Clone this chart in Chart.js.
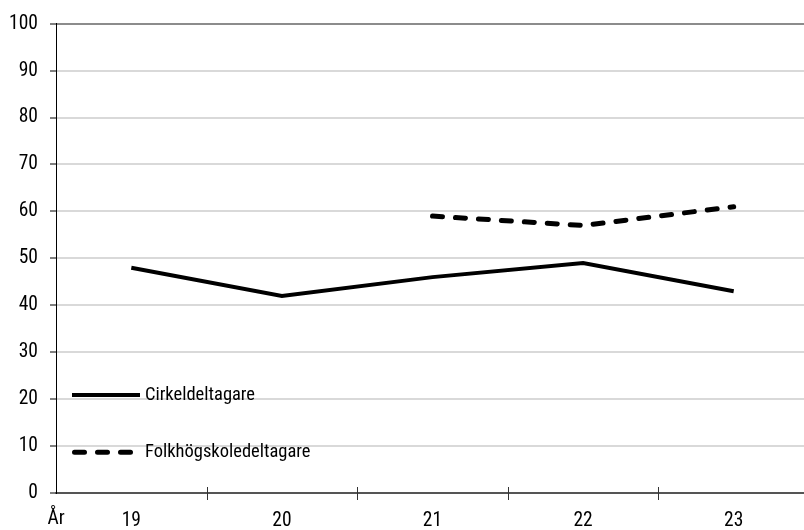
<!DOCTYPE html>
<html>
<head>
<meta charset="utf-8">
<script src="https://cdn.jsdelivr.net/npm/chart.js@4/dist/chart.umd.min.js"></script>
<style>
html, body { margin: 0; padding: 0; overflow: hidden; background: #fff; }
#wrap { position: relative; width: 810px; height: 530px; }
</style>
</head>
<body>
<div id="wrap"><canvas id="c"></canvas></div>
<script>
const categories = ['19', '20', '21', '22', '23'];
const cirkeldeltagare = [48, 42, 46, 49, 43];
const folkhogskoledeltagare = [null, null, 59, 57, 61];
const seriesNames = ['Cirkeldeltagare', 'Folkhögskoledeltagare'];
const axisLabelX = 'År';
const yTicks = [0, 10, 20, 30, 40, 50, 60, 70, 80, 90, 100];

const FONT = '"Roboto Condensed", "DejaVu Sans Condensed", sans-serif';
const FONT_SIZE = 19.5;
const LEGEND_FONT_SIZE = 18.5;

const overlay = {
  id: 'overlay',
  afterDraw(chart) {
    const ctx = chart.ctx;
    const x = chart.scales.x, y = chart.scales.y;
    const area = chart.chartArea;
    ctx.save();
    ctx.strokeStyle = '#333';
    ctx.lineWidth = 1;
    for (let i = 1; i < categories.length; i++) {
      const px = Math.round((x.getPixelForValue(i - 1) + x.getPixelForValue(i)) / 2) + 0.5;
      ctx.beginPath();
      ctx.moveTo(px, area.bottom - 6);
      ctx.lineTo(px, area.bottom + 7);
      ctx.stroke();
    }
    ctx.fillStyle = '#000';
    ctx.font = FONT_SIZE + 'px ' + FONT;
    ctx.textAlign = 'center';
    ctx.textBaseline = 'middle';
    ctx.fillText(axisLabelX, area.left, 519);
    const ds = chart.data.datasets;
    const rows = [y.getPixelForValue(20.9), y.getPixelForValue(8.7)];
    ctx.font = LEGEND_FONT_SIZE + 'px ' + FONT;
    ds.forEach((d, i) => {
      const ly = rows[i];
      ctx.strokeStyle = d.borderColor;
      ctx.lineWidth = d.borderWidth;
      ctx.setLineDash(d.borderDash || []);
      ctx.lineCap = d.borderCapStyle || 'butt';
      ctx.beginPath();
      if (i === 0) { ctx.moveTo(72, ly); ctx.lineTo(140, ly); }
      else { ctx.moveTo(74.5, ly); ctx.lineTo(130.5, ly); }
      ctx.stroke();
      ctx.setLineDash([]);
      ctx.fillStyle = '#000';
      ctx.textAlign = 'left';
      ctx.textBaseline = 'middle';
      ctx.fillText(d.label, 145, ly);
    });
    ctx.restore();
  }
};

new Chart(document.getElementById('c'), {
  type: 'line',
  data: {
    labels: categories,
    datasets: [
      {
        label: seriesNames[0],
        data: cirkeldeltagare,
        borderColor: '#000',
        borderWidth: 4,
        pointRadius: 0,
        tension: 0,
        fill: false
      },
      {
        label: seriesNames[1],
        data: folkhogskoledeltagare,
        borderColor: '#000',
        borderWidth: 5,
        borderDash: [10, 13],
        borderCapStyle: 'round',
        pointRadius: 0,
        tension: 0,
        fill: false
      }
    ]
  },
  options: {
    responsive: true,
    maintainAspectRatio: false,
    animation: false,
    layout: { padding: { top: 23, right: 1, left: 0, bottom: 0 } },
    plugins: { legend: { display: false }, tooltip: { enabled: false } },
    scales: {
      x: {
        offset: true,
        grid: { display: false, drawTicks: false, offset: true },
        border: { display: true, color: '#555', width: 2 },
        ticks: {
          color: '#000',
          padding: 16,
          font: { family: FONT, size: FONT_SIZE }
        },
        afterFit(s) { s.height = 37; }
      },
      y: {
        min: 0,
        max: 100,
        afterBuildTicks(s) { s.ticks = yTicks.map(v => ({ value: v })); },
        grid: {
          color(c) {
            if (c.tick && c.tick.value === 0) return 'rgba(0,0,0,0)';
            if (c.tick && c.tick.value === 100) return '#8c8c8c';
            return '#d9d9d9';
          },
          lineWidth: 2,
          tickColor: '#000',
          tickLength: 6,
          tickWidth: 1
        },
        border: { display: true, color: '#000', width: 1 },
        ticks: {
          color: '#000',
          padding: 12,
          font: { family: FONT, size: FONT_SIZE }
        },
        afterFit(s) { s.width = 56; }
      }
    }
  },
  plugins: [overlay]
});
</script>
</body>
</html>
